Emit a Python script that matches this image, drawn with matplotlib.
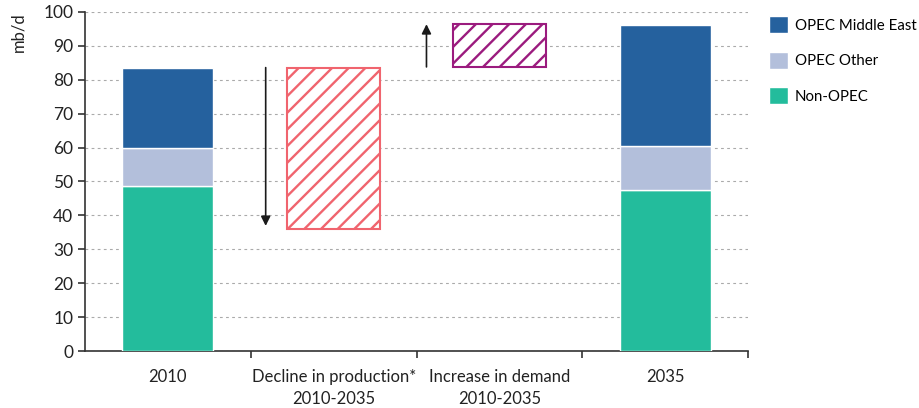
import matplotlib
matplotlib.use("Agg")
import matplotlib.pyplot as plt
import numpy as np

# stacked bars (2010 and 2035), mb/d
years = ["2010", "2035"]
non_opec = [48.7, 47.6]
opec_other = [11.2, 12.9]
opec_me = [23.7, 35.8]

# floating boxes: decline in production and increase in demand
decline_top, decline_bottom = 83.6, 36.1
demand_bottom, demand_top = 83.8, 96.4

categories = ["2010", "Decline in production*\n2010-2035",
              "Increase in demand\n2010-2035", "2035"]

C_ME = "#25619E"
C_OTHER = "#B3BFDB"
C_NON = "#23BC9C"
C_DECL = "#F0646E"
C_DEM = "#9B1B7E"

plt.rcParams["font.family"] = ["Lato", "DejaVu Sans"]
plt.rcParams["hatch.linewidth"] = 1.7

fig = plt.figure(figsize=(9.2, 4.08), dpi=100)
ax = fig.add_axes([0.0924, 0.1397, 0.7207, 0.8309])

bar_x = np.array([0, 3])
w = 0.55
ax.bar(bar_x, non_opec, width=w, color=C_NON, edgecolor="white", linewidth=1, zorder=3,
       label="Non-OPEC")
ax.bar(bar_x, opec_other, bottom=non_opec, width=w, color=C_OTHER, edgecolor="white",
       linewidth=1, zorder=3, label="OPEC Other")
ax.bar(bar_x, opec_me, bottom=np.add(non_opec, opec_other), width=w, color=C_ME,
       edgecolor="white", linewidth=1, zorder=3, label="OPEC Middle East")

ax.bar(1, decline_top - decline_bottom, bottom=decline_bottom, width=0.56,
       facecolor="white", edgecolor=C_DECL, hatch="//", linewidth=1.5, zorder=3)
ax.bar(2, demand_top - demand_bottom, bottom=demand_bottom, width=0.56,
       facecolor="white", edgecolor=C_DEM, hatch="//", linewidth=1.5, zorder=3)

# arrows
ax.annotate("", xy=(0.59, decline_bottom + 0.8), xytext=(0.59, decline_top),
            arrowprops=dict(arrowstyle="-|>", color="#1a1a1a", lw=1.2,
                            mutation_scale=14, shrinkA=0, shrinkB=0), zorder=4)
ax.annotate("", xy=(1.56, demand_top), xytext=(1.56, demand_bottom),
            arrowprops=dict(arrowstyle="-|>", color="#1a1a1a", lw=1.2,
                            mutation_scale=14, shrinkA=0, shrinkB=0), zorder=4)

ax.set_xlim(-0.5, 3.5)
ax.set_ylim(0, 100)
ax.set_yticks(np.arange(0, 101, 10))
ax.yaxis.grid(True, linestyle=(0, (2.5, 3)), color="#aaaaaa", linewidth=0.8, zorder=0)
ax.set_axisbelow(True)

ax.set_xticks(range(4))
ax.set_xticklabels(categories, fontsize=12, color="#222222", linespacing=1.45)
ax.tick_params(axis="x", length=0, pad=13)
ax.set_xticks([0.5, 1.5, 2.5, 3.5], minor=True)
ax.tick_params(axis="x", which="minor", length=5, width=1.2, color="#333333")
ax.tick_params(axis="y", labelsize=12.5, labelcolor="#222222", length=5, width=1.2,
               color="#333333")

for s in ["top", "right"]:
    ax.spines[s].set_visible(False)
for s in ["left", "bottom"]:
    ax.spines[s].set_color("#333333")
    ax.spines[s].set_linewidth(1.2)

ax.set_ylabel("mb/d", fontsize=12, color="#222222", loc="top", labelpad=12)

handles, labels = ax.get_legend_handles_labels()
ax.legend(handles[::-1], labels[::-1], loc="upper left", bbox_to_anchor=(1.022, 1.005),
          frameon=False, fontsize=10.8, handlelength=1.3, handleheight=1.35,
          labelspacing=1.25, handletextpad=0.45, borderaxespad=0)

fig.savefig("out.png", dpi=100)
